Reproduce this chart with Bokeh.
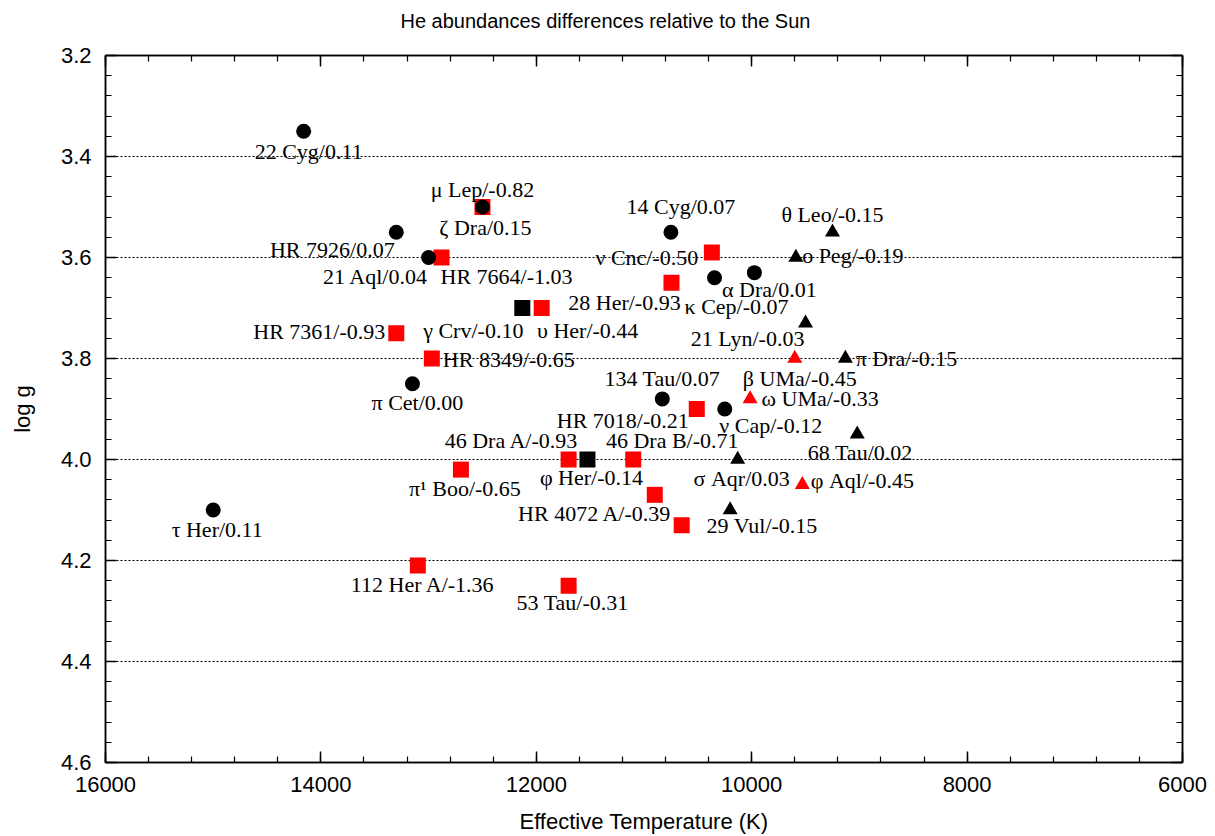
from bokeh.plotting import figure
from bokeh.models import (Range1d, FixedTicker, LinearAxis, PrintfTickFormatter,
                          ColumnDataSource, CustomJSTickFormatter)
from bokeh.core.properties import value
from bokeh.embed import file_html
from bokeh.resources import INLINE

# ---------------- data ----------------
star_names = [
    "22 Cyg", "ζ Dra", "HR 7926", "21 Aql", "14 Cyg", "α Dra", "κ Cep", "π Cet",
    "134 Tau", "ν Cap", "τ Her",
    "γ Crv", "φ Her",
    "μ Lep", "HR 7664", "ν Cnc", "28 Her", "υ Her", "HR 7361", "HR 8349", "HR 7018",
    "46 Dra A", "46 Dra B", "π¹ Boo", "HR 4072 A", "", "112 Her A", "53 Tau",
    "θ Leo", "ο Peg", "21 Lyn", "π Dra", "68 Tau", "σ Aqr", "29 Vul",
    "β UMa", "ω UMa", "φ Aql",
]
teff = [
    14160, 12500, 13300, 13000, 10750, 9975, 10345, 13150,
    10830, 10250, 15000,
    12130, 11525,
    12500, 12880, 10370, 10745, 11950, 13300, 12970, 10510,
    11700, 11100, 12700, 10900, 10650, 13100, 11700,
    9250, 9590, 9500, 9130, 9020, 10130, 10200,
    9600, 10015, 9530,
]
logg = [
    3.35, 3.50, 3.55, 3.60, 3.55, 3.63, 3.64, 3.85,
    3.88, 3.90, 4.10,
    3.70, 4.00,
    3.50, 3.60, 3.59, 3.65, 3.70, 3.75, 3.80, 3.90,
    4.00, 4.00, 4.02, 4.07, 4.13, 4.21, 4.25,
    3.55, 3.60, 3.73, 3.80, 3.95, 4.00, 4.10,
    3.80, 3.88, 4.05,
]
he_diff = [
    0.11, 0.15, 0.07, 0.04, 0.07, 0.01, -0.07, 0.00,
    0.07, -0.12, 0.11,
    -0.10, -0.14,
    -0.82, -1.03, -0.50, -0.93, -0.44, -0.93, -0.65, -0.21,
    -0.93, -0.71, -0.65, -0.39, None, -1.36, -0.31,
    -0.15, -0.19, -0.03, -0.15, 0.02, 0.03, -0.15,
    -0.45, -0.33, -0.45,
]
group = (["circle_black"] * 11 + ["square_black"] * 2 + ["square_red"] * 15
         + ["triangle_black"] * 7 + ["triangle_red"] * 3)

x_ticks = [16000, 14000, 12000, 10000, 8000, 6000]
y_ticks = [3.2, 3.4, 3.6, 3.8, 4.0, 4.2, 4.4, 4.6]

title_text = "He abundances differences relative to the Sun"

# ---------------- label placement (screen-pixel offsets) ----------------
label_offsets = {
    "22 Cyg": (5, 20), "μ Lep": (0, -18), "ζ Dra": (3, 20), "HR 7926": (-64, 17),
    "21 Aql": (-53, 19), "HR 7664": (65, 19), "14 Cyg": (10, -26), "θ Leo": (0, -18),
    "ν Cnc": (-65, 5), "ο Peg": (57, -2), "α Dra": (15, 17), "28 Her": (-47, 20),
    "κ Cep": (22, 29), "HR 7361": (-77, -2), "γ Crv": (-49, 22), "υ Her": (46, 22),
    "21 Lyn": (-58, 15), "HR 8349": (77, 1), "π Dra": (61, 0), "π Cet": (5, 19),
    "134 Tau": (0, -20), "β UMa": (5, 20), "ω UMa": (70, 0), "HR 7018": (-74, 11),
    "ν Cap": (46, 16), "68 Tau": (3, 18), "46 Dra A": (-57, -19), "46 Dra B": (39, -19),
    "π¹ Boo": (4, 19), "φ Her": (4, 18), "σ Aqr": (4, 19), "φ Aql": (60, -4),
    "HR 4072 A": (-60, 19), "29 Vul": (32, 15), "τ Her": (4, 19), "112 Her A": (5, 19),
    "53 Tau": (4, 17), "": (0, 0),
}

labels = [f"{n}/{h:.2f}" if n else "" for n, h in zip(star_names, he_diff)]

p = figure(width=1215, height=836,
           x_range=Range1d(16000, 6000), y_range=Range1d(4.6, 3.2),
           output_backend="svg", toolbar_location=None,
           min_border_left=105, min_border_right=33,
           min_border_top=55, min_border_bottom=74,
           x_axis_location=None, y_axis_location=None)

p.background_fill_color = "white"
p.border_fill_color = "white"
p.outline_line_color = "black"
p.outline_line_width = 1.5

xt = FixedTicker(ticks=x_ticks, minor_ticks=list(range(6000, 16001, 400)))
yt = FixedTicker(ticks=y_ticks, minor_ticks=[round(3.2 + 0.04 * i, 2) for i in range(36)])


def style(ax, labelled):
    ax.axis_line_color = "black"
    ax.axis_line_width = 1.5
    ax.major_tick_in = 11
    ax.major_tick_out = 0
    ax.minor_tick_in = 6
    ax.minor_tick_out = 0
    ax.major_tick_line_color = "black"
    ax.minor_tick_line_color = "black"
    ax.major_tick_line_width = 1.5
    ax.minor_tick_line_width = 1.2
    if labelled:
        ax.major_label_text_font = "Liberation Sans"
        ax.major_label_text_font_size = "22px"
        ax.major_label_text_color = "black"
        ax.axis_label_text_font = "Liberation Sans"
        ax.axis_label_text_font_size = "22px"
        ax.axis_label_text_font_style = "normal"
        ax.axis_label_text_color = "black"
    else:
        ax.formatter = CustomJSTickFormatter(code="return ''")
        ax.major_label_text_color = None
        ax.major_label_standoff = 0


bottom = LinearAxis(ticker=xt, formatter=PrintfTickFormatter(format="%d"),
                    axis_label="Effective Temperature (K)")
style(bottom, True)
bottom.major_label_standoff = 14
bottom.axis_label_standoff = 14
p.add_layout(bottom, "below")

left = LinearAxis(ticker=yt, formatter=PrintfTickFormatter(format="%.1f"), axis_label="log g")
style(left, True)
left.major_label_standoff = 14
left.axis_label_standoff = 23
p.add_layout(left, "left")

top = LinearAxis(ticker=xt)
style(top, False)
p.add_layout(top, "above")

# invisible spacer axis: reserves the gap between the title and the frame
spacer = LinearAxis(ticker=xt)
style(spacer, False)
spacer.axis_line_color = None
spacer.major_tick_line_color = None
spacer.minor_tick_line_color = None
spacer.major_tick_in = 0
spacer.minor_tick_in = 0
spacer.major_tick_out = 19
p.add_layout(spacer, "above")

right = LinearAxis(ticker=yt)
style(right, False)
p.add_layout(right, "right")

p.xgrid.visible = False
p.ygrid.ticker = yt
p.ygrid.grid_line_color = "black"
p.ygrid.grid_line_dash = "2 2"
p.ygrid.grid_line_width = 1

p.title.text = title_text
p.title.text_font = "Liberation Sans"
p.title.text_font_size = "20px"
p.title.text_font_style = "normal"
p.title.text_color = "black"
p.title.align = "left"
p.title.offset = 295
p.title.standoff = 10
p.title.vertical_align = "bottom"


def subset(g):
    idx = [i for i, gg in enumerate(group) if gg == g]
    return ColumnDataSource(dict(T=[teff[i] for i in idx], g=[logg[i] for i in idx]))


p.scatter("T", "g", source=subset("square_red"), marker="square", size=16,
          fill_color="#ff0000", line_color="#ff0000", line_width=0)
p.scatter("T", "g", source=subset("square_black"), marker="square", size=16,
          fill_color="black", line_color="black", line_width=0)
p.scatter("T", "g", source=subset("circle_black"), marker="circle", size=15,
          fill_color="black", line_color="black", line_width=0)
p.scatter("T", "g", source=subset("triangle_black"), marker="triangle", size=15,
          fill_color="black", line_color="black", line_width=0)
p.scatter("T", "g", source=subset("triangle_red"), marker="triangle", size=15,
          fill_color="#ff0000", line_color="#ff0000", line_width=0)

lab_src = ColumnDataSource(dict(
    T=teff, g=logg, text=labels,
    dx=[label_offsets[n][0] for n in star_names],
    dy=[label_offsets[n][1] for n in star_names],
))
p.text("T", "g", text="text", source=lab_src, x_offset="dx", y_offset="dy",
       text_font=value("Liberation Serif"), text_font_size="22px",
       text_align="center", text_baseline="middle", text_color="black")

open("out.html", "w").write(file_html(p, INLINE))
